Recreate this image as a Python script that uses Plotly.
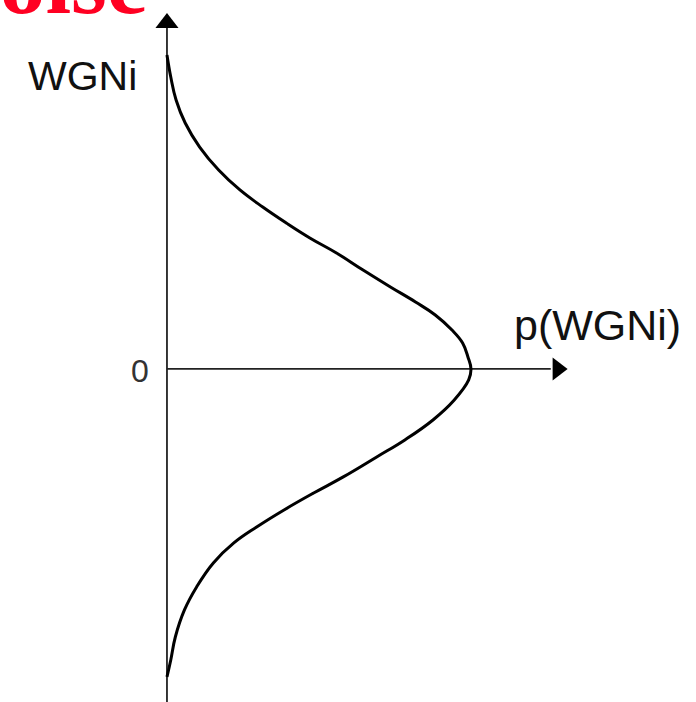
import plotly.graph_objects as go

# Curve: WGNi value (vertical) and its density p(WGNi) (horizontal)
wgni = [3.005, 2.794, 2.574, 2.354, 2.124, 1.904, 1.713, 1.550, 1.397, 1.254, 1.110, 0.947,
        0.785, 0.641, 0.517, 0.373, 0.249, 0.115, 0.000, -0.105, -0.297, -0.488, -0.679,
        -0.842, -1.033, -1.187, -1.349, -1.512, -1.665, -1.856, -2.086, -2.306, -2.565,
        -2.785, -2.947]
p_wgni = [0.000, 0.005, 0.012, 0.024, 0.043, 0.068, 0.096, 0.126, 0.157, 0.188, 0.223, 0.258,
          0.294, 0.327, 0.353, 0.375, 0.389, 0.396, 0.400, 0.397, 0.378, 0.350, 0.313,
          0.276, 0.232, 0.193, 0.154, 0.118, 0.088, 0.061, 0.039, 0.023, 0.011,
          0.005, 0.000]

title_text = "Noise"
y_label = "WGNi"
x_label = "p(WGNi)"
origin_label = "0"

X_RANGE = [-0.2197, 0.6961]
Y_RANGE = [-3.187, 3.531]

fig = go.Figure()

# axes lines
fig.add_shape(type="line", x0=0, x1=0, y0=Y_RANGE[0], y1=3.27,
              line=dict(color="#222222", width=1.8), layer="below")
fig.add_shape(type="line", x0=0, x1=0.505, y0=0, y1=0,
              line=dict(color="#222222", width=1.8), layer="below")

# arrowheads
fig.add_trace(go.Scatter(x=[0], y=[3.311], mode="markers",
                         marker=dict(symbol="triangle-up", size=20, color="#000000"),
                         hoverinfo="skip", showlegend=False))
fig.add_trace(go.Scatter(x=[0.514], y=[0], mode="markers",
                         marker=dict(symbol="triangle-right", size=20, color="#000000"),
                         hoverinfo="skip", showlegend=False))

# density curve
fig.add_trace(go.Scatter(x=p_wgni, y=wgni, mode="lines",
                         line=dict(color="#000000", width=3, shape="spline", smoothing=1.2),
                         hoverinfo="skip", showlegend=False))

W, H = 696, 702
def px(xp):
    return xp / W
def py(yp):
    return 1 - yp / H

fig.add_annotation(x=px(150), y=py(15), xref="paper", yref="paper", text=f"<b>{title_text}</b>",
                   showarrow=False, xanchor="right", yanchor="bottom", yshift=-20,
                   font=dict(family="Liberation Serif", size=92, color="#FF0022"))
fig.add_annotation(x=px(82), y=py(76), xref="paper", yref="paper", text=y_label,
                   showarrow=False, xanchor="center", yanchor="middle",
                   font=dict(family="Liberation Sans", size=41, color="#111111"))
fig.add_annotation(x=px(597), y=py(325), xref="paper", yref="paper", text=x_label,
                   showarrow=False, xanchor="center", yanchor="middle",
                   font=dict(family="Liberation Sans", size=43, color="#111111"))
fig.add_annotation(x=px(140), y=py(371), xref="paper", yref="paper", text=origin_label,
                   showarrow=False, xanchor="center", yanchor="middle",
                   font=dict(family="Liberation Sans", size=32, color="#333333"))

fig.update_layout(
    width=W, height=H,
    margin=dict(l=0, r=0, t=0, b=0),
    paper_bgcolor="white", plot_bgcolor="white",
    xaxis=dict(range=X_RANGE, visible=False, fixedrange=True),
    yaxis=dict(range=Y_RANGE, visible=False, fixedrange=True),
    showlegend=False,
)

fig.write_html("out.html", config={"displayModeBar": False},
               post_script="document.body.style.margin='0';")
